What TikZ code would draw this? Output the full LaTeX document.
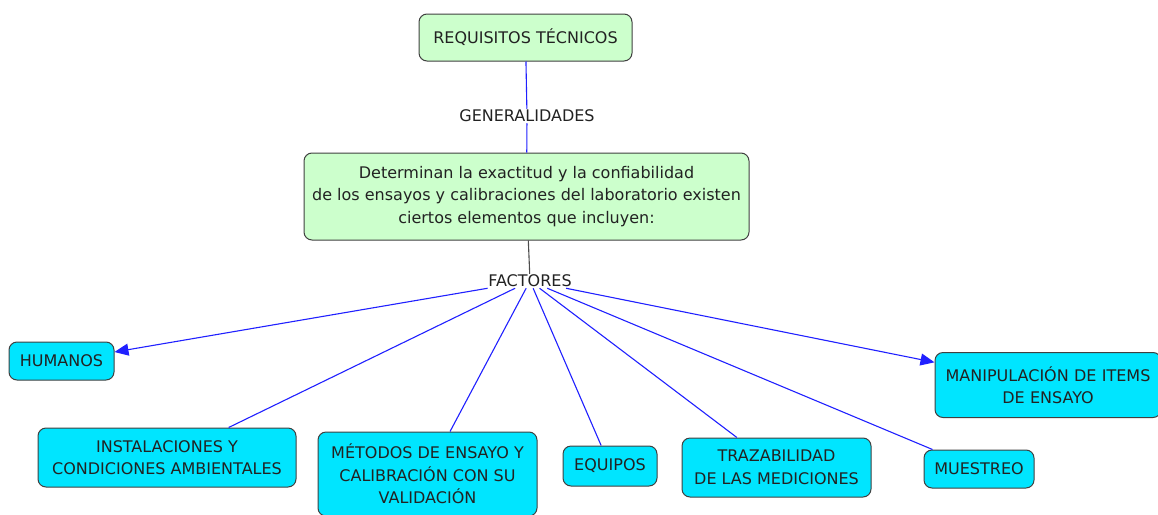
\documentclass[tikz,border=0pt]{standalone}
\usepackage{fontspec}
\setmainfont{DejaVu Sans}
\usetikzlibrary{arrows.meta}
\definecolor{boxgreen}{HTML}{CCFFCC}
\definecolor{boxcyan}{HTML}{00E5FF}
\definecolor{edgeblue}{HTML}{2020FF}
\definecolor{txt}{HTML}{222222}
\begin{document}
\begin{tikzpicture}[x=1pt,y=-1pt,
  every node/.style={font=\fontsize{16}{22.5}\selectfont, text=txt},
  greenbox/.style={draw=black!75, fill=boxgreen, rounded corners=8pt, line width=1pt, align=center},
  cyanbox/.style={draw=black!75, fill=boxcyan, rounded corners=8pt, line width=1pt, align=center},
  lbl/.style={inner sep=1pt},
  link/.style={draw=edgeblue, line width=1.1pt},
  arr/.style={link, -{Triangle[length=14pt,width=12pt]}},
  darklink/.style={draw=black!70, line width=1.1pt}]
\clip (0,0) rectangle (1158,514);
\useasboundingbox (0,0) rectangle (1158,514);
\node[greenbox, minimum width=213pt, minimum height=47pt] (req) at (525.5,37.5) {REQUISITOS TÉCNICOS};
\node[lbl] (gen) at (527,116) {GENERALIDADES};
\node[greenbox, minimum width=445pt, minimum height=87pt] (main) at (526.5,196.5) {Determinan la exactitud y la confiabilidad\\de los ensayos y calibraciones del laboratorio existen\\ciertos elementos que incluyen:};
\node[lbl] (fac) at (530,281) {FACTORES};
\node[cyanbox, minimum width=105pt, minimum height=38pt] (hum) at (61.5,361) {HUMANOS};
\node[cyanbox, minimum width=258pt, minimum height=59pt] (ins) at (167,457.5) {INSTALACIONES Y\\CONDICIONES AMBIENTALES};
\node[cyanbox, minimum width=219pt, minimum height=84pt] (met) at (427.5,474) {MÉTODOS DE ENSAYO Y\\CALIBRACIÓN CON SU\\VALIDACIÓN};
\node[cyanbox, minimum width=94pt, minimum height=40pt] (equ) at (610,466) {EQUIPOS};
\node[cyanbox, minimum width=189pt, minimum height=59pt] (tra) at (776.5,467.5) {TRAZABILIDAD\\DE LAS MEDICIONES};
\node[cyanbox, minimum width=226pt, minimum height=65pt, text width=210pt] (man) at (1048,385) {MANIPULACIÓN DE ITEMS\\DE ENSAYO};
\node[cyanbox, minimum width=110pt, minimum height=38pt] (mue) at (979,469) {MUESTREO};
\draw[link] (req) -- (gen);
\draw[link] (gen) -- (main);
\draw[darklink] (main) -- (fac);
\draw[arr] (fac) -- (hum);
\draw[link] (fac) -- (ins);
\draw[link] (fac) -- (met);
\draw[link] (fac) -- (equ);
\draw[link] (fac) -- (tra);
\draw[link] (fac) -- (mue);
\draw[arr] (fac) -- (man);
\end{tikzpicture}
\end{document}
